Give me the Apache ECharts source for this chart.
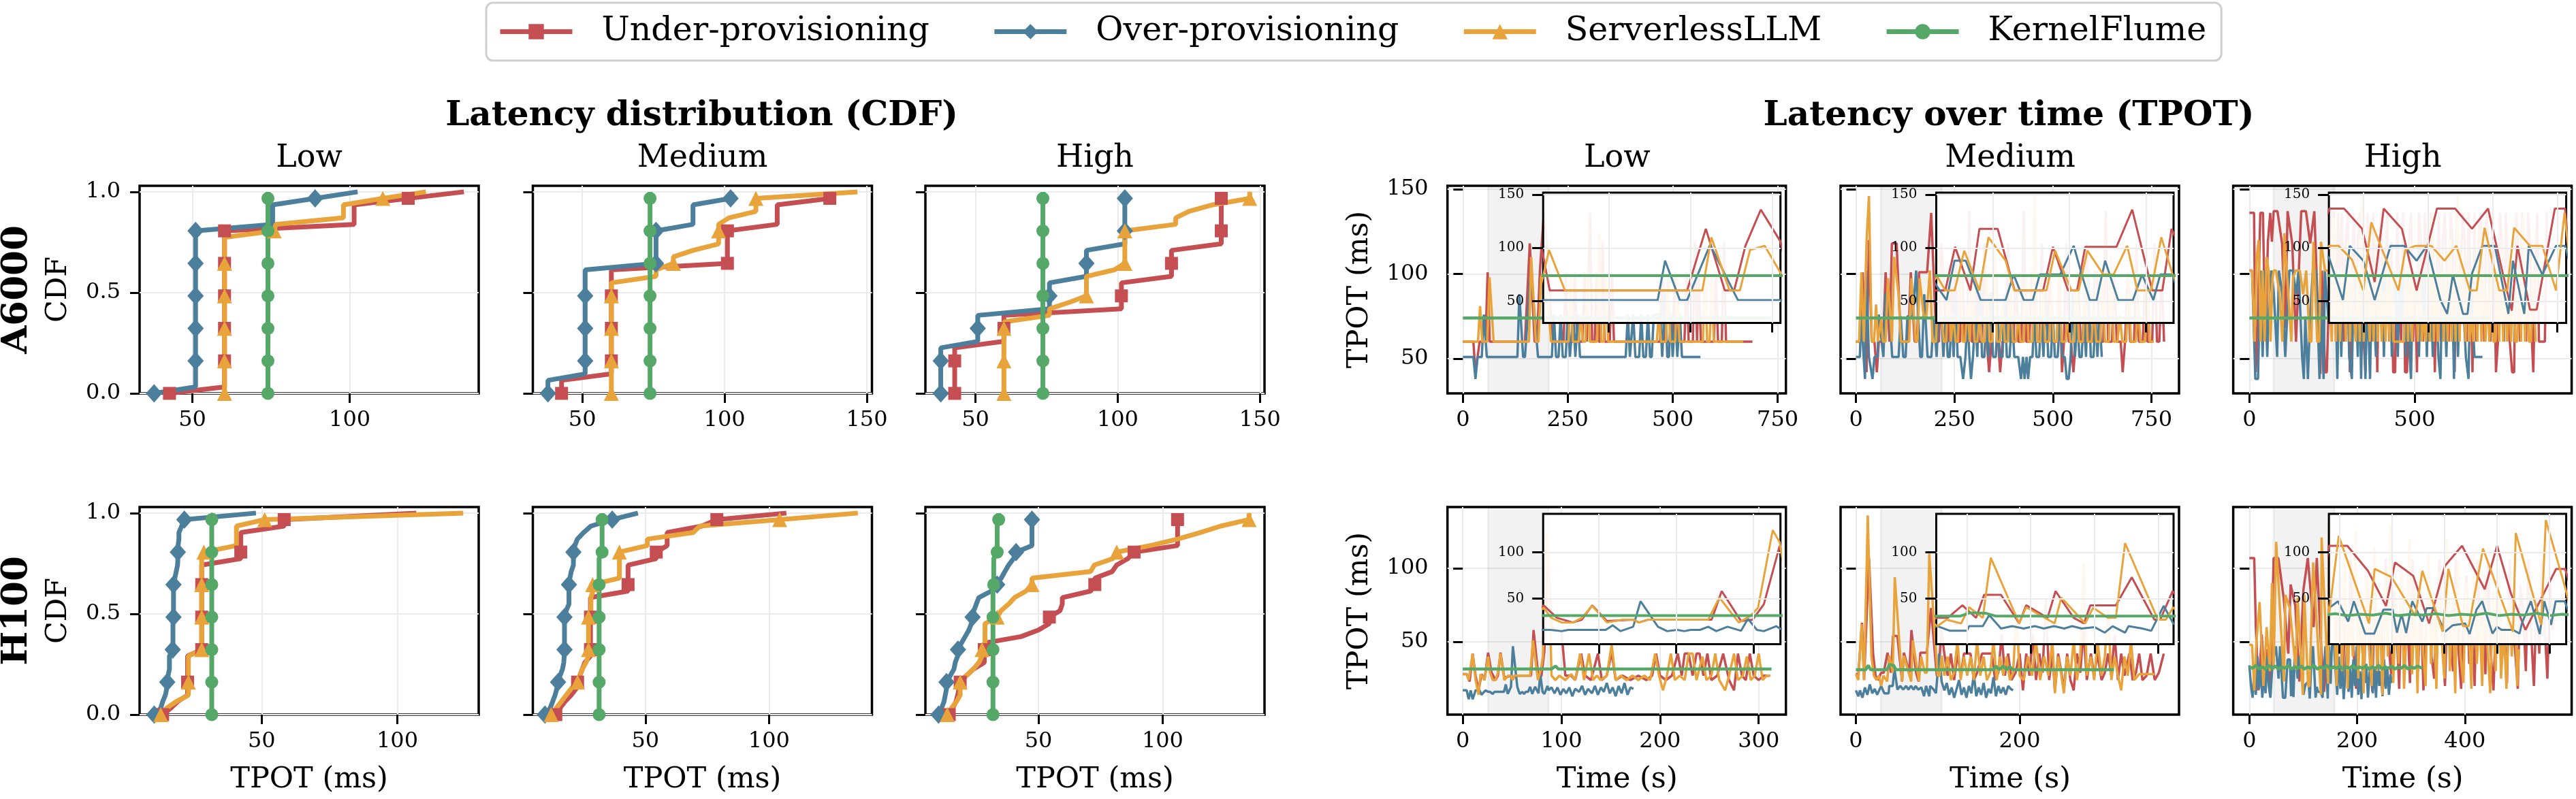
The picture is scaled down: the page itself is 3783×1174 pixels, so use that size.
<!DOCTYPE html>
<html>
<head>
<meta charset="utf-8">
<script src="https://cdn.jsdelivr.net/npm/echarts@6/dist/echarts.min.js"></script>
<style>
html, body { margin: 0; padding: 0; background: #fff; }
#chart { width: 3783px; height: 1174px; }
</style>
</head>
<body>
<div id="chart"></div>
<script>
// ---- categories ----
const methods = ['Under-provisioning', 'Over-provisioning', 'ServerlessLLM', 'KernelFlume'];
const gpus = ['A6000', 'H100'];
const loads = ['Low', 'Medium', 'High'];

// ---- CDF samples: [TPOT ms, number of samples at that value] ----
const cdf_A6000_Low_Under = [[42.7,1],[60.2,25],[101.4,4],[118.6,1],[136.3,1]];
const cdf_A6000_Low_Over = [[37.8,1],[51,25],[75.5,4],[89,1],[102.5,1]];
const cdf_A6000_Low_SLLM = [[60.2,25],[76,1],[76.5,1],[98,3],[110.5,1],[124.2,1]];
const cdf_A6000_Low_KF = [[74,32]];

const cdf_A6000_Med_Under = [[42.7,3],[60.2,17],[101,6],[118.5,4],[137,2]];
const cdf_A6000_Med_Over = [[37.9,3],[51,17],[75.9,6],[88.9,4],[102.1,1],[102.5,1]];
const cdf_A6000_Med_SLLM = [[60.2,18],[75.9,2],[82,2],[88.9,1],[97.9,4],[101.5,1],[111,3],[146.7,1]];
const cdf_A6000_Med_KF = [[73.8,32]];

const cdf_A6000_High_Under = [[42.7,8],[60,5],[101.3,5],[118.9,5],[136.4,9]];
const cdf_A6000_High_Over = [[37.8,8],[50.8,5],[76,5],[89,5],[102.5,9]];
const cdf_A6000_High_SLLM = [[60,12],[76,2],[83,1],[89,4],[98.8,1],[102.5,6],[120.4,2],[125,1],[133.4,1],[146.4,2]];
const cdf_A6000_High_KF = [[73.7,32]];

const cdf_H100_Low_Under = [[13.5,1],[16.5,1],[19,1],[22.7,7],[27.9,14],[42.3,5],[58.3,2],[107,1]];
const cdf_H100_Low_Over = [[10.4,1],[12.8,1],[13.5,1],[14.5,1],[15,1],[15.2,1],[15.5,1],[16,3],[17.2,1],[17.3,4],[17.5,6],[18,1],[18.5,1],[19,1],[19.1,2],[19.2,1],[19.5,2],[20.5,1],[21.5,1],[47.9,1]];
const cdf_H100_Low_SLLM = [[12.8,1],[15,1],[18.5,1],[23,7],[27.9,15],[28.7,1],[40.7,4],[51.1,1],[124.3,1]];
const cdf_H100_Low_KF = [[31.6,31],[32.2,1]];

const cdf_H100_Med_Under = [[13.8,1],[15.5,1],[17.5,1],[20,1],[22,1],[22.6,1],[23.5,1],[24.5,1],[25.5,1],[27.8,10],[43,5],[54.4,2],[58.8,3],[72.8,1],[78.9,1],[107,1]];
const cdf_H100_Med_Over = [[9.4,1],[11.5,1],[12.5,1],[13.5,1],[14.2,1],[14.7,1],[15.5,1],[16.5,1],[17,1],[17.2,1],[17.3,6],[18,1],[19.1,4],[19.5,1],[20,1],[20.9,3],[21.5,1],[22.5,1],[25,1],[28,1],[36.6,1],[47,1]];
const cdf_H100_Med_SLLM = [[11.9,1],[14,1],[16,1],[18,1],[20,1],[22.6,1],[23.5,1],[24.5,1],[26,1],[27,7],[28,3],[28.7,2],[39.5,5],[50.8,2],[69.3,1],[72,1],[104.3,1],[135.9,1]];
const cdf_H100_Med_KF = [[31.3,25],[32.5,7]];

const cdf_H100_High_Under = [[14.1,1],[15.5,1],[16.8,1],[17.5,1],[18,1],[18.5,1],[21,1],[23.8,1],[28.2,4],[43,1],[50,1],[54.4,2],[58.7,1],[59.6,2],[71,1],[72.7,2],[79.7,1],[81.5,1],[86,1],[88.5,1],[106,6]];
const cdf_H100_High_Over = [[9.8,1],[11,1],[12,1],[12.5,1],[13,2],[14.5,1],[16,1],[16.5,1],[17.5,1],[17.6,1],[19,1],[20.5,1],[22,1],[23,1],[23.5,1],[24,1],[25,1],[26,1],[31,1],[33.4,1],[35,1],[36.5,1],[38,1],[40,1],[41,1],[47.4,6]];
const cdf_H100_High_SLLM = [[13.3,1],[15,1],[17,1],[18.5,3],[21,1],[23.8,1],[26,1],[27.3,2],[28.5,4],[33.4,1],[35,1],[38,1],[40.4,1],[45,1],[47.4,2],[71,1],[72.5,1],[80,1],[81.5,1],[95,1],[106,1],[115,1],[123.4,1],[134.8,2]];
const cdf_H100_High_KF = [[31.7,20],[32,5],[33.4,5],[34,2]];

// ---- TPOT over time: [time s, TPOT ms] ----
const ts_A6000_Low_Under = [[0,60],[25,60],[30,42],[35,51],[40,60],[54,60],[59,101],[64,60],[70,60],[148,60],[159.4,118],[171,60],[176.7,60],[183.6,102],[193,136],[205,106],[212,60],[240,60],[245,101],[250,60],[262,60],[267,101],[272,60],[285,60],[290,101],[295,60],[298,60],[303,136],[308,60],[314,60],[319,101],[324,60],[328,60],[333,119],[338,60],[350,60],[355,101],[360,60],[470,60],[475,101],[480,60],[500,60],[505,101],[510,60],[528,60],[533,101],[538,60],[548,60],[553,119],[558,60],[562,101],[567,60],[598,60],[603,101],[608,60],[617,60],[622,119],[627,60],[690,60]];
const ts_A6000_Low_Over = [[0,51],[25,51],[30,38],[35,51],[45,51],[50,76],[57,51],[130,51],[134.5,88],[143.5,51],[148,51],[162,103],[179,51],[212,51],[217,76],[222,51],[228,51],[233,76],[238,51],[245,51],[250,76],[255,51],[258,51],[263,76],[268,51],[270,51],[274,76],[279,51],[388,51],[393,76],[398,51],[401,51],[406,76],[411,51],[420,51],[425,76],[430,51],[436,51],[441,76],[446,51],[450,51],[455,76],[470,76],[475,51],[478,51],[482,89],[487,51],[491,51],[495,76],[500,51],[502,51],[506,76],[511,51],[513,51],[517,76],[522,51],[566,51]];
const ts_A6000_Low_SLLM = [[0,60],[36,60],[41,81],[46,60],[58,60],[63.6,98],[73.3,60],[157.3,60],[162.8,110],[173.9,60],[180.2,60],[186.4,98],[195.4,102],[204.9,77],[210,60],[252,60],[257,98],[262,60],[276,60],[281,76],[286,60],[292,60],[297,98],[302,60],[320,60],[325,124],[330,60],[336,60],[341,98],[346,60],[462,60],[467,76],[472,60],[484,60],[489,98],[494,60],[506,60],[511,98],[516,60],[572,60],[577,110],[582,60],[588,60],[593,98],[598,60],[668,60]];
const ts_A6000_Low_KF = [[0,74],[735,74]];

const ts_A6000_Med_Under = [[0,60],[10,60],[17,101],[27,42],[33,120],[40,60],[47,60],[53,42],[58,60],[63,60],[68.9,60],[75.3,101],[85.3,60],[91.2,118],[103.1,118],[114.2,60],[132.8,60],[139.2,101],[149.1,60],[155,60],[160.3,101],[180.7,101],[191,136],[204.1,60],[210.7,60],[216.7,118],[222,101],[228,60],[234,60],[240,101],[246,60],[252,118],[258,60],[264,60],[270,101],[276,60],[282,60],[288,137],[294,60],[300,60],[306,101],[312,60],[320,60],[326,118],[332,60],[338,42],[344,60],[350,101],[356,101],[361,60],[366,42],[372,60],[380,60],[386,118],[392,60],[400,60],[406,101],[412,60],[420,60],[426,137],[432,60],[440,60],[446,101],[452,101],[458,60],[466,60],[472,118],[478,60],[486,60],[492,101],[498,60],[510,60],[516,101],[523,42],[528,60],[534,118],[540,60],[546,60],[552,42],[558,60],[564,101],[570,60],[580,60],[586,118],[592,60],[600,60],[606,101],[612,101],[618,60],[628,60],[634,137],[640,60],[650,60],[656,101],[662,60],[672,60],[677,42],[683,60],[690,101],[696,60],[706,60],[712,118],[718,60],[728,60],[734,101],[740,60],[752,60],[758,118],[764,60],[770,60],[776,101],[782,60]];
const ts_A6000_Med_Over = [[0,51],[10,51],[13,76],[23,38],[26,102],[33,51],[42,38],[47,51],[55,51],[58,76],[63.7,63.5],[69.7,51],[74.9,88],[82.3,88],[92,51],[108.3,51],[113.5,75],[120.2,51],[126.1,51],[130.6,75],[143.9,75],[152.8,102],[158,75],[163.2,51],[167.7,51],[173.3,88],[181.8,51],[191.4,51],[197.4,75],[204.8,51],[209.3,75],[217.4,75],[222,51],[228,76],[233,51],[238,51],[243,76],[248,51],[253,88],[258,51],[265,51],[272,38],[278,51],[283,76],[288,51],[292,38],[297,51],[303,76],[308,51],[314,102],[320,51],[326,51],[331,76],[336,51],[342,89],[348,51],[355,51],[360,76],[365,51],[372,51],[377,88],[383,51],[390,51],[396,76],[402,51],[412,51],[419,38],[424,51],[428,38],[433,51],[437,38],[442,51],[448,51],[453,76],[458,51],[465,51],[470,76],[476,51],[482,89],[488,51],[495,51],[500,76],[505,51],[512,51],[518,76],[524,51],[530,51],[535,38],[540,38],[545,51],[550,89],[556,51],[562,76],[567,51],[573,51],[578,76],[584,51],[590,102],[596,51],[603,51],[608,76],[613,51],[618,76],[624,51]];
const ts_A6000_Med_SLLM = [[0,60],[8,60],[14,101],[20,60],[27,120],[33,146],[40,60],[46,60],[51,82],[56,60],[63.7,73],[68.9,60],[75,60],[81.3,97.5],[91.2,60],[97.1,110],[108.3,88],[114,60],[135,60],[140.6,97.5],[151.3,60],[156,60],[161.7,97.5],[172.1,75],[178.8,75],[187.7,102],[194.4,60],[203.3,60],[210,110],[217.4,75],[223,60],[229,60],[235,98],[241,60],[247,76],[253,60],[259,60],[265,111],[271,60],[277,60],[283,82],[289,60],[295,98],[301,60],[308,60],[314,76],[320,60],[327,60],[333,98],[339,60],[346,60],[352,111],[358,60],[366,60],[372,82],[378,60],[386,60],[392,98],[398,60],[406,60],[412,76],[418,60],[426,60],[432,98],[438,60],[448,60],[454,147],[460,60],[468,60],[474,98],[480,60],[490,60],[496,89],[502,60],[510,60],[516,111],[522,60],[532,60],[538,76],[544,60],[554,60],[560,98],[566,60],[576,60],[582,102],[588,60],[598,60],[604,82],[610,60],[620,60],[626,98],[632,60],[642,60],[648,111],[654,60],[664,60],[670,76],[676,60],[686,60],[692,98],[698,60],[710,60],[716,82],[722,60],[734,60],[740,98],[746,60],[756,60]];
const ts_A6000_Med_KF = [[0,74],[730,74]];

const ts_A6000_High_Under = [[0,136],[14,136],[19,42],[24,60],[33,136],[41,136],[48,60],[56,119],[63,136],[68,119],[73.4,137],[84.8,137],[98.8,118],[108.5,68],[115.5,137],[129.6,118],[141,60],[156.8,137],[170.9,137],[184,118],[196.4,137],[206.9,81],[214.8,41],[219.2,102],[228.9,42],[234.1,42],[248.2,137],[256.1,137],[262,60],[268,136],[274,101],[280,136],[286,60],[292,119],[298,136],[304,42],[310,101],[316,136],[322,60],[328,119],[334,136],[340,101],[346,60],[351,42],[357,136],[363,119],[369,60],[375,136],[381,101],[387,42],[393,119],[399,136],[405,60],[411,101],[417,136],[423,60],[429,119],[435,42],[441,42],[447,136],[453,101],[459,60],[465,136],[471,42],[477,42],[483,119],[489,136],[495,60],[501,101],[507,42],[513,136],[519,119],[525,60],[531,136],[537,101],[543,60],[549,136],[555,119],[561,42],[567,101],[573,136],[579,60],[585,119],[591,136],[597,101],[603,60],[609,136],[615,119],[621,42],[627,136],[633,60],[639,101],[645,136],[651,119],[657,60],[663,136],[669,101],[675,42],[681,136],[687,60],[693,119],[699,136],[705,101],[711,60],[717,136],[723,119],[729,60],[735,136],[741,101],[746,42],[752,60],[758,136],[764,119],[770,60],[776,136],[782,101],[788,60],[795,42],[801,42],[807,136],[813,119],[819,60],[825,136],[831,101],[837,60],[843,136],[849,119],[855,60],[859,42],[865,101],[871,136],[876,60],[894,60],[900,136],[904,136]];
const ts_A6000_High_Over = [[0,102],[8,102],[18,38],[26,38],[33,102],[40,51],[46,102],[54,51],[60,88],[66,102],[73.4,90],[83.9,51],[89.2,102],[99.7,88],[108.5,51],[120.8,102],[131.3,102],[141,88],[148.9,102],[159.5,51],[164.7,38],[169.1,75],[177,38],[180.5,38],[184,76],[192,102],[201.6,102],[212.2,38],[215.7,88],[224.5,38],[228,102],[238.5,75],[249.1,102],[256.1,102],[262,76],[266,38],[272,102],[278,51],[284,102],[290,76],[296,102],[302,51],[310,38],[316,102],[322,89],[328,51],[333,102],[338,38],[344,102],[351,38],[357,89],[365,38],[371,102],[377,76],[383,51],[389,102],[395,89],[401,102],[407,51],[413,102],[419,76],[425,102],[431,51],[437,102],[443,89],[449,51],[455,102],[461,76],[467,102],[473,51],[479,102],[485,51],[489,38],[495,102],[501,89],[507,102],[513,51],[519,102],[525,76],[531,102],[537,51],[543,102],[549,89],[555,51],[561,102],[567,76],[572,51],[578,38],[584,102],[590,89],[596,51],[602,102],[608,76],[613,102],[619,38],[625,102],[631,51],[637,89],[643,102],[649,76],[655,51],[663,38],[669,102],[675,76],[681,51],[705,51]];
const ts_A6000_High_SLLM = [[0,102],[8,102],[16,60],[22,110],[28,120],[34,60],[40,102],[46,60],[52,110],[58,102],[64,60],[70,98],[73.4,102],[80.4,102],[90.9,89],[99.7,60],[105.9,124],[126.9,60],[132.2,98],[140.1,102],[152.4,102],[162.6,88],[171.8,102],[182.3,60],[187.6,60],[193.7,119],[205.1,60],[211.3,60],[216.6,119],[228.9,102],[238.5,102],[249.1,60],[255.7,133],[262,60],[268,102],[274,60],[280,89],[286,102],[292,60],[298,120],[304,60],[310,102],[316,76],[322,60],[328,102],[334,60],[340,146],[346,60],[352,102],[358,89],[364,60],[370,102],[376,60],[382,125],[388,60],[394,102],[400,60],[406,89],[412,60],[418,102],[424,60],[430,102],[436,60],[442,60],[468,60],[474,102],[480,60],[486,120],[492,60],[498,102],[504,89],[510,60],[516,102],[522,60],[528,76],[534,60],[540,102],[546,60],[552,133],[558,60],[564,102],[570,60],[576,89],[582,102],[588,60],[594,102],[600,60],[606,120],[612,60],[618,102],[624,60],[630,146],[636,60],[642,102],[648,89],[654,60],[660,102],[666,60],[672,76],[678,60],[684,102],[690,60],[696,125],[702,60],[708,102],[714,60],[720,89],[726,60],[732,102],[738,60],[744,60],[750,102],[756,60],[762,120],[768,60],[774,102],[780,60],[786,89],[792,60],[798,102],[804,60],[810,60],[816,102],[822,60],[828,133],[834,60],[840,102],[846,60],[852,60],[858,102],[866,60]];
const ts_A6000_High_KF = [[0,74],[726,74]];

const ts_H100_Low_Under = [[0,28],[4,28],[7,23],[10,42],[13,27],[16,17],[19,28],[22,24],[25.7,42.6],[29.2,29],[33.3,24],[35.6,27],[38.3,42.6],[42.1,25.5],[48.9,27],[50.4,24],[52.7,27],[69.2,27],[71.8,58],[76.8,25.5],[79.8,27],[82.7,43.7],[86.8,107],[90,60],[96,58],[100,58],[104,27],[110,27],[114,24],[120,42],[124,27],[130,24],[137,42],[141,24],[146,27],[151,43],[155,24],[162,27],[170,24],[178,27],[186,24],[192,27],[196,42],[200,27],[206,24],[212,27],[218,42],[222,27],[225,42],[229,42],[233,27],[237,42],[240,42],[244,27],[248,42],[252,24],[258,27],[264,42],[270,24],[275,17],[279,42],[283,27],[287,24],[291,42],[295,27],[300,24],[305,27],[311,27]];
const ts_H100_Low_Over = [[0,17],[4,17],[6,11],[8,17],[10,11],[13,17],[17,17],[19,14],[23,17],[25.7,16],[27.5,16],[30.4,14.6],[32.1,16],[41.8,16],[43.6,21],[45.6,14.6],[48.9,19.4],[50.8,47],[55.3,19.4],[57.7,14.6],[60.3,16],[62.1,14.6],[63.8,16],[66.2,16],[68.3,19.4],[70.4,14.6],[73.3,19.4],[76.8,15],[78.6,28],[80.9,16],[82.7,14.6],[85.9,20],[87,17],[90,19],[93,15],[96,19],[99,14],[102,18],[105,15],[108,19],[111,13],[114,18],[118,16],[121,20],[124,14],[127,18],[131,15],[134,20],[137,14],[140,19],[143,16],[146,22],[149,15],[152,19],[155,13],[158,20],[161,15],[164,22],[167,14],[170,19],[173,18]];
const ts_H100_Low_SLLM = [[0,28],[4,28],[6,24],[10,42],[13,24],[16,14],[18,28],[22,24],[25.7,40],[27.7,29],[30.4,24],[33.3,24],[35.6,29],[38.3,42],[42.1,24],[46.2,27],[48.9,27],[50.4,24],[52.7,27],[68.3,27],[71.2,51],[76.2,24],[79.2,31],[81.2,40],[85,124],[86.8,111],[90,27],[94,24],[98,27],[104,24],[110,28],[114,24],[119,42],[123,24],[128,42],[132,24],[136,27],[140,24],[146,27],[151,48],[155,24],[160,27],[166,24],[172,27],[178,24],[184,27],[190,24],[195,42],[199,27],[203,17],[207,27],[211,42],[215,24],[220,27],[225,24],[229,42],[233,42],[237,24],[243,40],[247,24],[252,27],[256,42],[260,24],[266,17],[270,27],[275,42],[279,24],[284,27],[288,40],[292,24],[296,27],[300,42],[304,24],[308,27],[312,27]];
const ts_H100_Low_KF = [[0,31.5],[90,31.5],[94,33.5],[97,31.5],[313,31.5]];

const ts_H100_Med_Under = [[0,28],[3,28],[7.5,63],[10,24],[16,107],[21,42],[24,27],[27,24],[30.8,29],[34,29],[38.6,42.6],[42.9,29],[45.4,54],[50.7,54],[56.4,23],[58.6,42.6],[65.3,29],[67.8,58],[73.5,29],[76.7,23],[78.7,42.6],[86.7,42.6],[91.7,73],[98.8,27],[100.6,27],[104.5,58],[108,42],[112,27],[116,42],[120,24],[124,42],[128,27],[132,42],[140,42],[144,24],[148,29],[154,42],[166,42],[170,24],[174,29],[178,55],[182,27],[186,42],[190,24],[195,29],[200,42],[204,17],[208,42],[212,27],[216,55],[220,24],[224,42],[228,29],[232,79],[236,24],[240,42],[243,17],[247,42],[251,29],[254,17],[258,42],[262,24],[266,17],[270,42],[274,29],[278,58],[282,24],[287,42],[291,27],[295,42],[300,24],[304,29],[308,42],[312,27],[316,55],[320,24],[324,42],[328,27],[334,42],[338,24],[342,29],[346,42],[350,24],[355,27],[360,42],[365,24],[370,29],[376,42]];
const ts_H100_Med_Over = [[0,17],[3,13],[5,17],[8,12],[11,19],[14,14],[17,21],[20,15],[23,18],[26,14],[30.8,20],[34.7,15],[40,15],[40.7,20],[45,20],[47,32],[50.7,17.5],[54.2,20],[57.8,17.5],[61.3,20],[64.1,17.5],[67.3,20],[70.5,17.5],[73,20],[76,17.5],[80,19],[83.2,13],[85.7,20],[89.6,13],[90.7,20],[95,17.5],[97.8,15],[101.7,42],[104.7,23],[108,17],[111,22],[114,14],[117,19],[120,12],[123,18],[126,24],[129,14],[132,19],[135,12],[138,20],[141,15],[144,28],[147,13],[150,19],[153,14],[156,22],[159,12],[162,18],[165,15],[168,26],[171,13],[174,20],[177,15],[180,19],[183,14],[186,20],[189,18],[192,17]];
const ts_H100_Med_SLLM = [[0,28],[3,24],[7,62],[10,24],[14.5,136],[19,40],[22,27],[25,24],[28,27],[30.8,20],[33.6,27],[38.2,23],[40.7,40.5],[45,29],[47.5,94],[56.4,23],[58.6,40.5],[67.5,23],[69.6,51],[77.1,23],[79.6,40],[84.2,29],[86.7,29],[89.6,110],[99.9,27],[102.4,27],[104.7,40.5],[108,27],[112,40],[116,24],[120,29],[124,51],[128,24],[132,40],[136,27],[140,40],[144,24],[148,51],[152,27],[156,40],[160,24],[164,29],[168,51],[172,24],[176,40],[180,27],[184,40],[188,24],[192,29],[196,70],[200,27],[205,24],[210,40],[215,27],[220,51],[225,24],[230,40],[235,27],[240,51],[243,15],[247,40],[251,27],[254,15],[258,40],[262,27],[266,51],[270,24],[274,40],[278,104],[282,27],[287,40],[291,24],[295,51],[300,27],[304,40],[308,72],[312,24],[316,40],[320,27],[324,17],[328,40],[332,27],[336,51],[340,24],[346,28],[365,28]];
const ts_H100_Med_KF = [[0,31],[12,31],[15,34],[18,31],[38,31],[41,34.5],[46,34],[49,31],[168,31],[171,33.5],[175,31],[180,33.5],[184,31],[188,33],[192,31],[315,31]];

const ts_H100_High_Under = [[0,107],[9,107],[12,60],[17,17],[23,55],[28,20],[33,45],[38,17],[42,60],[45,107],[53.8,107],[63.6,80],[72.2,42],[76.5,89],[85.2,74.5],[92.7,23],[100.3,85.5],[108.4,107],[119.2,60],[125.1,107],[131.6,56],[138.6,16],[148.3,60],[153.2,82],[157.5,82],[163,40],[168,95],[173,20],[178,72],[183,30],[188,106],[193,45],[198,18],[203,80],[208,55],[213,25],[218,100],[223,60],[228,16],[233,88],[238,40],[243,72],[248,20],[253,106],[258,50],[263,28],[268,85],[273,60],[278,18],[283,95],[288,42],[293,70],[298,22],[303,106],[308,55],[313,30],[318,80],[323,17],[328,60],[333,98],[338,40],[343,25],[348,75],[353,106],[358,50],[363,20],[368,88],[373,58],[378,30],[383,106],[388,45],[393,18],[398,72],[403,95],[408,35],[413,60],[418,20],[423,106],[428,55],[433,80],[438,28],[443,106],[448,42],[453,17],[458,70],[463,90],[468,35],[473,58],[478,22],[483,106],[488,60],[493,45],[498,18],[503,88],[508,72],[513,30],[518,106],[523,55],[528,20],[533,80],[538,42],[543,106],[548,60],[553,25],[558,90],[563,58],[567,80]];
const ts_H100_High_Over = [[0,34],[3,20],[6,12],[9,30],[12,14],[15,40],[18,18],[21,35],[24,12],[27,28],[30,15],[33,40],[36,20],[39,12],[42,30],[45,39.5],[49.3,47],[54.2,25],[56.9,47],[62.3,12],[66.6,12],[71,38],[75.3,38],[77.4,13],[79.6,33],[81.8,12.5],[84.7,47],[89.5,25],[91.6,39.5],[94.9,39.5],[100.3,14],[104,21],[109.9,23],[112,11.4],[115.3,38],[118,47],[122.9,12],[125.1,19.4],[127.2,16],[132.6,16],[135.8,12],[136.9,23],[141.2,47],[145.4,11.4],[147.6,47],[150.8,21.5],[153,47],[157.3,47],[160,30],[163,14],[166,40],[169,18],[172,35],[175,11],[178,28],[181,45],[184,16],[187,32],[190,12],[193,38],[196,20],[199,47],[202,14],[205,30],[208,11],[211,40],[214,22],[217,35],[220,12],[223,28],[226,46],[229,15],[232,33],[235,12],[238,40],[241,20],[244,30],[247,13],[250,38],[253,18],[256,32],[259,14],[262,28],[264,22]];
const ts_H100_High_SLLM = [[0,48],[5,48],[9,17],[13,50],[19,77],[26,20],[32,60],[38,30],[42,90],[45,31],[49.7,118],[64.1,23],[66.8,82],[74.9,73],[86.2,31],[89.5,80],[99.2,14],[101.9,82],[108.9,20],[111.6,20],[118.4,104],[132.7,14],[134,121],[146.1,21.5],[148.3,135],[157.5,62],[162,20],[167,90],[172,30],[177,110],[182,18],[187,75],[192,40],[197,125],[202,25],[207,85],[212,15],[217,100],[222,45],[227,20],[232,115],[237,30],[242,70],[247,14],[252,95],[257,40],[262,130],[267,22],[272,80],[277,35],[282,105],[287,18],[292,60],[297,120],[302,28],[307,85],[312,15],[317,100],[322,45],[327,20],[332,110],[337,35],[342,75],[347,18],[352,95],[357,50],[362,25],[367,120],[372,30],[377,80],[382,15],[387,105],[392,40],[397,22],[402,90],[407,60],[412,18],[417,110],[422,35],[427,70],[432,20],[437,95],[442,45],[447,15],[452,85],[457,30],[462,100],[467,25],[472,60],[477,18],[482,80],[487,40],[492,90],[497,20],[500,45]];
const ts_H100_High_KF = [[0,33],[6,32],[12,34],[18,31.5],[24,33],[30,31.5],[36,34],[42,32],[48,33.5],[54,31.5],[60,33],[66,32],[72,34],[78,31.5],[84,33],[90,32],[96,33.5],[102,31.5],[108,33],[114,32],[120,34],[126,31.5],[132,33],[138,32],[144,34],[150,31.5],[156,33],[162,32],[168,33.5],[174,31.5],[180,33],[186,32],[192,34],[198,31.5],[204,33],[210,32],[216,33.5],[222,31.5],[228,33],[234,32],[240,34],[246,31.5],[252,33],[258,32],[264,33.5],[270,31.5],[276,33],[282,32],[288,34],[294,31.5],[300,33],[306,32],[312,33.5],[321,32]];

// ---- zoom windows shown in the insets (s) ----
const zoomWindows = [[[60,205],[63,218],[73,257]], [[25.6,87],[30.4,104.8],[45,158]]];

// ---- axis ranges & tick labels ----
const cdfXRange = [[[33.2,141],[32.6,151.8],[32.4,151.6]], [[5,130],[4.5,141.6],[4.5,141]]];
const cdfXTicks = [[[50,100],[50,100,150],[50,100,150]], [[50,100],[50,100],[50,100]]];
const cdfYTicks = [0, 0.5, 1.0];
const tsXRange = [[[-36.7,769.7],[-39,820],[-49,975]], [[-15.5,327.6],[-18.7,394.6],[-30,598]]];
const tsXTicks = [[[0,250,500,750],[0,250,500,750],[0,500]], [[0,100,200,300],[0,200],[0,200,400]]];
const tsYRange = [[29.5,152],[0.5,141.7]];
const tsYTicks = [[50,100,150],[50,100]];
const insetXTicks = [[[100,150,200],[100,150,200],[100,150,200,250]], [[40,60,80],[40,60,80,100],[50,75,100,125,150]]];

const cdfSets = [
  [[cdf_A6000_Low_Under, cdf_A6000_Low_Over, cdf_A6000_Low_SLLM, cdf_A6000_Low_KF],
   [cdf_A6000_Med_Under, cdf_A6000_Med_Over, cdf_A6000_Med_SLLM, cdf_A6000_Med_KF],
   [cdf_A6000_High_Under, cdf_A6000_High_Over, cdf_A6000_High_SLLM, cdf_A6000_High_KF]],
  [[cdf_H100_Low_Under, cdf_H100_Low_Over, cdf_H100_Low_SLLM, cdf_H100_Low_KF],
   [cdf_H100_Med_Under, cdf_H100_Med_Over, cdf_H100_Med_SLLM, cdf_H100_Med_KF],
   [cdf_H100_High_Under, cdf_H100_High_Over, cdf_H100_High_SLLM, cdf_H100_High_KF]]
];
const tsSets = [
  [[ts_A6000_Low_Under, ts_A6000_Low_Over, ts_A6000_Low_SLLM, ts_A6000_Low_KF],
   [ts_A6000_Med_Under, ts_A6000_Med_Over, ts_A6000_Med_SLLM, ts_A6000_Med_KF],
   [ts_A6000_High_Under, ts_A6000_High_Over, ts_A6000_High_SLLM, ts_A6000_High_KF]],
  [[ts_H100_Low_Under, ts_H100_Low_Over, ts_H100_Low_SLLM, ts_H100_Low_KF],
   [ts_H100_Med_Under, ts_H100_Med_Over, ts_H100_Med_SLLM, ts_H100_Med_KF],
   [ts_H100_High_Under, ts_H100_High_Over, ts_H100_High_SLLM, ts_H100_High_KF]]
];

// ---- styles / layout ----
const COLORS = ['#C44E52', '#4C7F9C', '#E8A33A', '#55A868'];
const SYMBOLS = ['rect', 'diamond', 'triangle', 'circle'];
const SYMSIZE = [19, [24, 27], 22, 19];
const FONT = '"DejaVu Serif", serif';
const cdfLeft = [205, 782.5, 1359];
const tsLeft = [2125.7, 2703, 3279.6];
const rowTop = [273, 745];
const PW = 498, PH = 305;

// empirical CDF, marker on every 5th sample
function ecdf(counts, m) {
  const xs = [];
  counts.forEach(function (p) { for (let k = 0; k < p[1]; k++) xs.push(p[0]); });
  const n = xs.length;
  return xs.map(function (x, i) {
    return { value: [x, i / (n - 1)], symbol: i % 5 === 0 ? SYMBOLS[m] : 'none' };
  });
}

const grids = [], xAxes = [], yAxes = [], series = [];

function axis(range, ticks, o) {
  return {
    type: 'value', min: range[0], max: range[1], z: o.z || 0,
    axisLine: { show: false },
    axisTick: { show: true, length: o.tickLen || 14, lineStyle: { color: '#000', width: 3 }, customValues: ticks },
    axisLabel: {
      show: o.label, customValues: ticks, fontSize: o.fontSize || 32, fontFamily: FONT,
      color: '#000', margin: o.margin, formatter: o.fmt
    },
    splitLine: { show: true, lineStyle: { color: '#ebebeb', width: 2 } }
  };
}

function addGrid(g, xa, ya) {
  grids.push(g);
  const idx = grids.length - 1;
  xa.gridIndex = idx; ya.gridIndex = idx;
  xAxes.push(xa); yAxes.push(ya);
  return idx;
}

// CDF panels first so the legend picks up line + marker icons
for (let r = 0; r < 2; r++) {
  for (let c = 0; c < 3; c++) {
    const idx = addGrid(
      { left: cdfLeft[c], top: rowTop[r], width: PW, height: PH, show: true, borderColor: '#000', borderWidth: 3.5, backgroundColor: 'transparent' },
      axis(cdfXRange[r][c], cdfXTicks[r][c], { label: true, margin: 24 }),
      axis([0, 1.03], cdfYTicks, { label: c === 0, margin: 28, fmt: function (v) { return v.toFixed(1); } })
    );
    for (let m = 0; m < 4; m++) {
      series.push({
        type: 'line', name: methods[m], xAxisIndex: idx, yAxisIndex: idx,
        data: ecdf(cdfSets[r][c][m], m), symbol: SYMBOLS[m], symbolSize: SYMSIZE[m],
        lineStyle: { width: 7, color: COLORS[m] }, itemStyle: { color: COLORS[m] },
        z: 2, animation: false
      });
    }
  }
}

// time-series panels with zoom insets
for (let r = 0; r < 2; r++) {
  for (let c = 0; c < 3; c++) {
    const main = addGrid(
      { left: tsLeft[c], top: rowTop[r], width: PW - 1, height: PH, show: true, borderColor: '#000', borderWidth: 3.5, backgroundColor: 'transparent' },
      axis(tsXRange[r][c], tsXTicks[r][c], { label: true, margin: 24 }),
      axis(tsYRange[r], tsYTicks[r], { label: c === 0, margin: 28 })
    );
    const win = zoomWindows[r][c];
    const inset = addGrid(
      { left: tsLeft[c] + 140.5, top: rowTop[r] + 10, width: 348.5, height: 191.5, show: true, z: 10,
        borderColor: '#000', borderWidth: 3, backgroundColor: 'rgba(255,255,255,0.92)' },
      axis(win, insetXTicks[r][c], { label: false, z: 12 }),
      axis(tsYRange[r], tsYTicks[r], { label: true, z: 12, fontSize: 20, margin: 28, tickLen: 16 })
    );
    for (let m = 0; m < 4; m++) {
      const s = {
        type: 'line', name: methods[m], xAxisIndex: main, yAxisIndex: main,
        data: tsSets[r][c][m], symbol: 'none', showSymbol: false,
        lineStyle: { width: m === 3 ? 4.5 : 3.5, color: COLORS[m] }, itemStyle: { color: COLORS[m] },
        z: 2, animation: false
      };
      if (m === 0) {
        s.markArea = {
          silent: true,
          itemStyle: { color: 'rgba(0,0,0,0.05)', borderColor: 'rgba(0,0,0,0.05)', borderWidth: 3 },
          data: [[{ xAxis: win[0] }, { xAxis: win[1] }]]
        };
      }
      series.push(s);
      series.push({
        type: 'line', name: methods[m], xAxisIndex: inset, yAxisIndex: inset,
        data: tsSets[r][c][m], symbol: 'none', showSymbol: false,
        lineStyle: { width: m === 3 ? 4 : 3, color: COLORS[m] }, itemStyle: { color: COLORS[m] },
        z: 11, animation: false
      });
    }
  }
}

// ---- texts ----
const texts = [];
function txt(x, y, s, size, bold, rot) {
  texts.push({
    type: 'text', x: x, y: y, rotation: rot || 0, z: 20,
    style: { text: s, font: (bold ? 'bold ' : '') + size + 'px ' + FONT, fill: '#000', align: 'center', verticalAlign: 'middle' }
  });
}
txt(1030.5, 171, 'Latency distribution (CDF)', 50, true);
txt(2950, 171, 'Latency over time (TPOT)', 50, true);
for (let c = 0; c < 3; c++) {
  txt(cdfLeft[c] + PW / 2, 233, loads[c], 46, false);
  txt(tsLeft[c] + PW / 2, 233, loads[c], 46, false);
  txt(cdfLeft[c] + PW / 2, 1146, 'TPOT (ms)', 43, false);
  txt(tsLeft[c] + PW / 2, 1146, 'Time (s)', 43, false);
}
for (let r = 0; r < 2; r++) {
  const cy = rowTop[r] + PH / 2;
  txt(25, cy, gpus[r], 53, true, Math.PI / 2);
  txt(86, cy, 'CDF', 43, false, Math.PI / 2);
  txt(1997, cy, 'TPOT (ms)', 43, false, Math.PI / 2);
}

const chart = echarts.init(document.getElementById('chart'));
chart.setOption({
  animation: false,
  backgroundColor: '#fff',
  textStyle: { fontFamily: FONT },
  legend: {
    data: methods, left: 714, top: 4, orient: 'horizontal', selectedMode: false,
    itemWidth: 106, itemHeight: 28, itemGap: 92,
    padding: [18, 22, 18, 17],
    lineStyle: { width: 7 },
    backgroundColor: '#fff', borderColor: '#cfcfcf', borderWidth: 3, borderRadius: 10,
    textStyle: { fontSize: 49, fontFamily: FONT, color: '#000', padding: [0, 0, 0, 38] }
  },
  grid: grids,
  xAxis: xAxes,
  yAxis: yAxes,
  series: series,
  graphic: { elements: texts }
});
</script>
</body>
</html>
